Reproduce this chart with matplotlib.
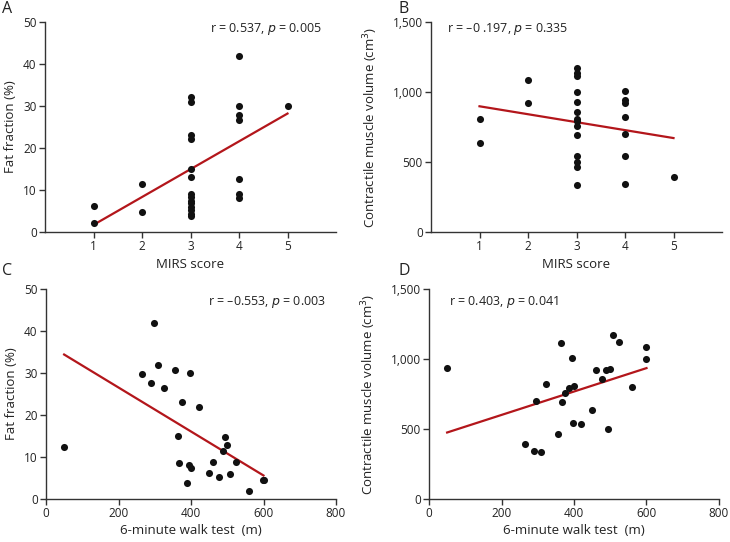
import matplotlib.pyplot as plt

plt.rcParams['font.family'] = ['Open Sans', 'DejaVu Sans']

# MIRS score panels (A, B)
mirs_a = [1, 1, 2, 2, 3, 3, 3, 3, 3, 3, 3, 3, 3, 3, 3, 3, 3, 3, 4, 4, 4, 4, 4, 4, 4, 5]
fat_a = [6.2, 2.1, 11.5, 4.8, 32.2, 31.0, 23.1, 22.2, 15.0, 13.1, 9.1, 8.3, 7.5, 6.8,
         6.0, 5.2, 4.4, 3.8, 42.0, 30.1, 27.8, 26.7, 12.5, 9.1, 8.1, 30.0]
line_a_x = [1, 5]
line_a_y = [1.7, 28.2]

mirs_b = [1, 1, 2, 2, 3, 3, 3, 3, 3, 3, 3, 3, 3, 3, 3, 3, 3, 3, 4, 4, 4, 4, 4, 4, 4, 5]
vol_b = [805, 638, 1088, 921, 1169, 1136, 1117, 998, 931, 855, 810, 793, 755, 693,
         540, 502, 467, 338, 1010, 940, 919, 824, 700, 545, 343, 390]
line_b_x = [1, 5]
line_b_y = [898, 671]

# 6-minute walk test panels (C, D)
walk_c = [297, 50, 266, 309, 291, 357, 397, 325, 375, 421, 364, 368, 395, 400, 388,
          449, 462, 477, 493, 500, 488, 508, 523, 598, 601, 561]
fat_c = [41.8, 12.5, 29.8, 32.0, 27.7, 30.8, 29.9, 26.5, 23.0, 22.0, 14.9, 8.6, 8.1,
         7.3, 3.8, 6.1, 8.9, 5.2, 14.8, 12.9, 11.4, 5.9, 8.8, 4.6, 4.5, 1.9]
line_c_x = [50, 600]
line_c_y = [34.4, 5.6]

walk_d = [50, 266, 291, 309, 296, 324, 356, 363, 367, 374, 387, 399, 395, 396, 420,
          449, 462, 476, 488, 499, 493, 508, 523, 561, 598, 600]
vol_d = [935, 392, 344, 337, 700, 823, 465, 1115, 695, 755, 795, 804, 1008, 546, 539,
         638, 921, 854, 921, 928, 501, 1168, 1125, 802, 1087, 997]
line_d_x = [50, 600]
line_d_y = [475, 935]

fig = plt.figure(figsize=(7.3, 5.42), dpi=100)
W, H = 730, 542


def make_ax(left, top, right, bottom):
    return fig.add_axes([left / W, 1 - bottom / H, (right - left) / W, (bottom - top) / H])


axA = make_ax(45, 22, 336, 232)
axB = make_ax(431, 22, 722, 232)
axC = make_ax(46, 289, 336, 499)
axD = make_ax(429, 289, 719, 499)

red = '#b3161b'
panels = [
    (axA, mirs_a, fat_a, line_a_x, line_a_y),
    (axB, mirs_b, vol_b, line_b_x, line_b_y),
    (axC, walk_c, fat_c, line_c_x, line_c_y),
    (axD, walk_d, vol_d, line_d_x, line_d_y),
]
for ax, x, y, lx, ly in panels:
    ax.plot(lx, ly, color=red, lw=1.6, zorder=2)
    ax.scatter(x, y, s=26, color='#111111', zorder=3, linewidths=0)
    for s in ['top', 'right']:
        ax.spines[s].set_visible(False)
    for s in ['left', 'bottom']:
        ax.spines[s].set_color('#333333')
        ax.spines[s].set_linewidth(1.0)
    ax.tick_params(direction='out', length=4, width=1, colors='#333333',
                   labelsize=8.5, labelcolor='#222222', pad=2)

# MIRS axes
for ax in [axA, axB]:
    ax.set_xlim(0, 6)
    ax.set_xticks([1, 2, 3, 4, 5])
    ax.set_xlabel('MIRS score', fontsize=9.5, color='#222222', labelpad=3)

for ax in [axC, axD]:
    ax.set_xlim(0, 800)
    ax.set_xticks([0, 200, 400, 600, 800])
    ax.set_xlabel('6-minute walk test  (m)', fontsize=9.5, color='#222222', labelpad=3)

for ax in [axA, axC]:
    ax.set_ylim(0, 50)
    ax.set_yticks([0, 10, 20, 30, 40, 50])
    ax.set_ylabel('Fat fraction (%)', fontsize=9.5, color='#222222', labelpad=4)

for ax in [axB, axD]:
    ax.set_ylim(0, 1500)
    ax.set_yticks([0, 500, 1000, 1500])
    ax.set_yticklabels(['0', '500', '1,000', '1,500'])
    ax.set_ylabel('Contractile muscle volume (cm$^3$)', fontsize=9.5, color='#222222', labelpad=9)

txt = dict(fontsize=9, color='#222222', va='center')
axA.text(0.95, 0.965, 'r = 0.537, $p$ = 0.005', transform=axA.transAxes, ha='right', **txt)
axB.text(0.055, 0.965, 'r = \u20130 .197, $p$ = 0.335', transform=axB.transAxes, ha='left', **txt)
axC.text(0.965, 0.94, 'r = \u20130.553, $p$ = 0.003', transform=axC.transAxes, ha='right', **txt)
axD.text(0.07, 0.94, 'r = 0.403, $p$ = 0.041', transform=axD.transAxes, ha='left', **txt)

for lab, x, y in [('A', 2, 1), ('B', 398, 1), ('C', 2, 263), ('D', 398, 263)]:
    fig.text(x / W, 1 - y / H, lab, fontsize=11.5, color='#222222', ha='left', va='top')

fig.savefig('out.png', dpi=100)
